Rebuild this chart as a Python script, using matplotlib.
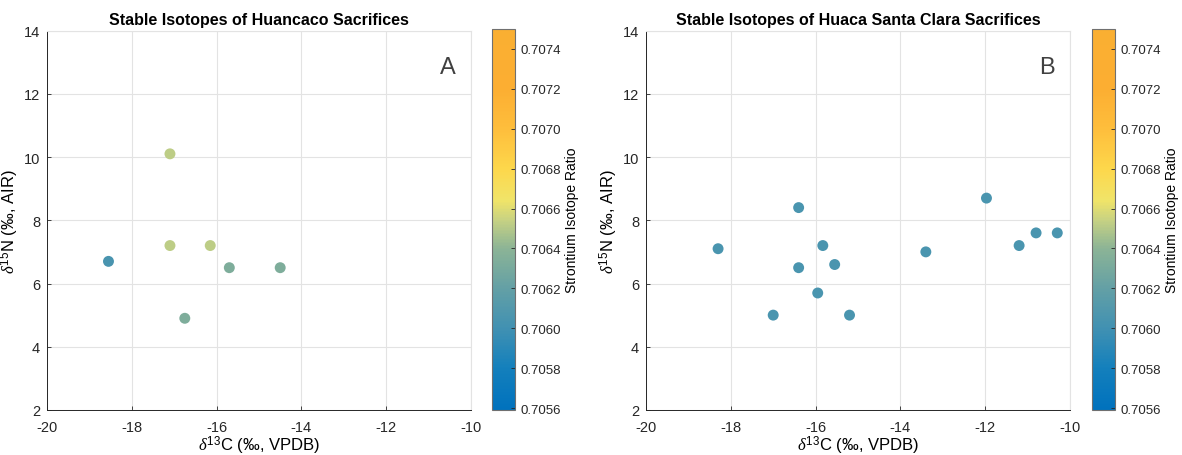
import matplotlib
import matplotlib.pyplot as plt
import numpy as np
from matplotlib.colors import LinearSegmentedColormap

matplotlib.use("Agg")

plt.rcParams["font.family"] = ["Liberation Sans", "DejaVu Sans"]
plt.rcParams["axes.unicode_minus"] = False
plt.rcParams["mathtext.fontset"] = "custom"
plt.rcParams["mathtext.rm"] = "Liberation Sans"
plt.rcParams["mathtext.it"] = "Liberation Serif:italic"

# Huancaco (panel A)
huancaco_c = [-18.55, -17.1, -17.1, -16.15, -15.7, -14.5, -16.75]
huancaco_n = [6.7, 10.1, 7.2, 7.2, 6.5, 6.5, 4.9]
huancaco_sr = [0.70605, 0.70652, 0.70652, 0.70652, 0.70633, 0.70633, 0.70633]

# Huaca Santa Clara (panel B)
santa_clara_c = [-18.3, -16.4, -15.83, -16.4, -15.55, -15.95, -17.0, -15.2,
                 -13.4, -11.97, -11.2, -10.8, -10.3]
santa_clara_n = [7.1, 8.4, 7.2, 6.5, 6.6, 5.7, 5.0, 5.0, 7.0, 8.7, 7.2, 7.6, 7.6]
santa_clara_sr = [0.70606] * 13

SR_MIN, SR_MAX = 0.70559, 0.70750
sr_ticks = np.round(np.arange(0.7056, 0.70741, 0.0002), 4)

cmap_nodes = [
    (0.00, (0, 114, 189)),
    (0.11, (20, 128, 188)),
    (0.215, (65, 145, 178)),
    (0.32, (100, 160, 165)),
    (0.424, (140, 180, 150)),
    (0.50, (200, 210, 130)),
    (0.55, (240, 228, 105)),
    (0.634, (253, 215, 75)),
    (0.738, (254, 190, 60)),
    (0.843, (252, 174, 50)),
    (1.00, (250, 175, 50)),
]
sr_cmap = LinearSegmentedColormap.from_list(
    "sr", [(p, tuple(v / 255 for v in c)) for p, c in cmap_nodes])

W, H = 1182, 456
fig = plt.figure(figsize=(W / 100, H / 100), dpi=100)


def px_rect(x0, x1, y0, y1):
    return [x0 / W, 1 - y1 / H, (x1 - x0) / W, (y1 - y0) / H]


def draw_panel(ax_rect, cb_rect, xs, ys, sr, title, letter):
    ax = fig.add_axes(ax_rect)
    sc = ax.scatter(xs, ys, c=sr, cmap=sr_cmap, vmin=SR_MIN, vmax=SR_MAX,
                    s=62, edgecolors="none", zorder=3)
    ax.set_xlim(-20, -10)
    ax.set_ylim(2, 14)
    ax.set_xticks(range(-20, -9, 2))
    ax.set_yticks(range(2, 15, 2))
    ax.grid(True, color="#e3e3e3", linewidth=0.8)
    ax.set_axisbelow(True)
    for side in ("left", "bottom"):
        ax.spines[side].set_color("#262626")
        ax.spines[side].set_linewidth(0.7)
    for side in ("top", "right"):
        ax.spines[side].set_color("#e3e3e3")
        ax.spines[side].set_linewidth(0.8)
    ax.tick_params(direction="in", length=3, width=0.6, labelsize=10.5,
                   colors="#262626")
    ax.tick_params(axis="x", pad=7)
    ax.tick_params(axis="y", pad=5)
    ax.set_title(title, fontsize=11.5, fontweight="bold", pad=5)
    ax.set_xlabel(r"$\delta^{13}$C (‰, VPDB)", fontsize=12, labelpad=0)
    ax.set_ylabel(r"$\delta^{15}$N (‰, AIR)", fontsize=12, labelpad=2)
    ax.text(0.946, 0.905, letter, transform=ax.transAxes, fontsize=17,
            color="#404040", ha="center", va="center")

    cax = fig.add_axes(cb_rect)
    cb = fig.colorbar(sc, cax=cax)
    cb.set_ticks(sr_ticks)
    cb.set_ticklabels([f"{t:.4f}" for t in sr_ticks])
    cb.outline.set_edgecolor("#707070")
    cb.outline.set_linewidth(0.8)
    cax.tick_params(direction="in", length=3, width=0.6, labelsize=9.5,
                    colors="#262626", pad=4)
    cb.set_label("Strontium Isotope Ratio", fontsize=10, labelpad=3)
    return ax


draw_panel(px_rect(47, 471, 31.5, 411), px_rect(492, 515, 30, 411),
           huancaco_c, huancaco_n, huancaco_sr,
           "Stable Isotopes of Huancaco Sacrifices", "A")
draw_panel(px_rect(646, 1070, 31.5, 411), px_rect(1092, 1115, 30, 411),
           santa_clara_c, santa_clara_n, santa_clara_sr,
           "Stable Isotopes of Huaca Santa Clara Sacrifices", "B")

fig.savefig("out.png", dpi=100)
